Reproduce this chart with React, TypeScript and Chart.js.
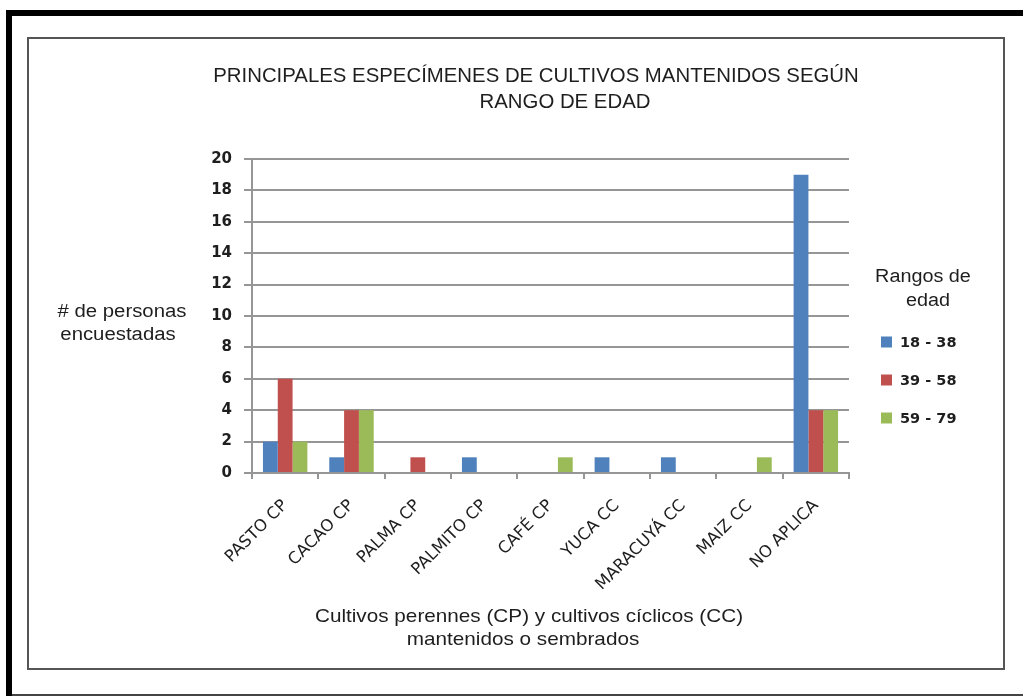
import React, { useEffect, useRef } from "react";
import { Chart, registerables } from "chart.js";

Chart.register(...registerables);

const categories = [
  "PASTO CP",
  "CACAO CP",
  "PALMA CP",
  "PALMITO CP",
  "CAFÉ CP",
  "YUCA CC",
  "MARACUYÁ CC",
  "MAIZ CC",
  "NO APLICA",
];
const seriesLabels = ["18 - 38", "39 - 58", "59 - 79"];
const values18to38 = [2, 1, 0, 1, 0, 1, 1, 0, 19];
const values39to58 = [6, 4, 1, 0, 0, 0, 0, 0, 4];
const values59to79 = [2, 4, 0, 0, 1, 0, 0, 1, 4];
const seriesColors = ["#4F81BD", "#C0504D", "#9BBB59"];
const titleLines = ["PRINCIPALES ESPECÍMENES DE CULTIVOS MANTENIDOS SEGÚN", "RANGO DE EDAD"];
const yTitleLines = ["# de personas", "encuestadas"];
const xTitleLines = ["Cultivos perennes (CP) y cultivos cíclicos (CC)", "mantenidos o sembrados"];
const legendTitleLines = ["Rangos de", "edad"];
const yMin = 0;
const yMax = 20;
const yStep = 2;

const W = 1023;
const H = 696;
const AREA = { left: 252, right: 849, top: 159, bottom: 473 };
const Y_W = 60;
const X_H = 120;
const GRID = "#969696";
const TEXT = "#1e1e1e";

function drawText(
  ctx: CanvasRenderingContext2D,
  text: string,
  cx: number,
  baseline: number,
  font: string,
  sx: number
) {
  ctx.save();
  ctx.font = font;
  ctx.fillStyle = TEXT;
  ctx.textAlign = "center";
  ctx.textBaseline = "alphabetic";
  ctx.translate(cx, baseline);
  ctx.scale(sx, 1);
  ctx.fillText(text, 0, 0);
  ctx.restore();
}

const decorPlugin = {
  id: "decor",
  beforeDraw(chart: any) {
    const ctx: CanvasRenderingContext2D = chart.ctx;
    ctx.save();
    ctx.fillStyle = "#ffffff";
    ctx.fillRect(0, 0, W, H);
    // outer thick frame
    ctx.fillStyle = "#000000";
    ctx.fillRect(6, 10, 6, H - 10);
    ctx.fillRect(6, 10, W - 6, 6);
    ctx.fillStyle = "#444444";
    ctx.fillRect(12, 694, W - 12, 2);
    // inner chart frame
    ctx.strokeStyle = "#555555";
    ctx.lineWidth = 2;
    ctx.strokeRect(28, 38, 976, 631);
    ctx.restore();
  },
  afterDraw(chart: any) {
    const ctx: CanvasRenderingContext2D = chart.ctx;
    const f21 = "21px 'Liberation Sans', Arial, sans-serif";
    const f18 = "18px 'Liberation Sans', Arial, sans-serif";
    const f19 = "19px 'Liberation Sans', Arial, sans-serif";
    // title
    drawText(ctx, titleLines[0], 536, 82, f21, 0.97);
    drawText(ctx, titleLines[1], 565, 108, f21, 0.97);
    // y axis title (horizontal)
    drawText(ctx, yTitleLines[0], 122, 317, f18, 1.13);
    drawText(ctx, yTitleLines[1], 118, 340, f18, 1.13);
    // x axis title
    drawText(ctx, xTitleLines[0], 529, 622, f19, 1.09);
    drawText(ctx, xTitleLines[1], 523, 645, f19, 1.09);
    // legend
    drawText(ctx, legendTitleLines[0], 923, 282, f18, 1.1);
    drawText(ctx, legendTitleLines[1], 928, 306, f18, 1.1);
    const rows = [342, 380, 418];
    chart.data.datasets.forEach((ds: any, i: number) => {
      const y = rows[i];
      ctx.save();
      ctx.fillStyle = ds.backgroundColor;
      ctx.fillRect(881, y - 5.5, 11, 11);
      ctx.fillStyle = TEXT;
      ctx.font = "bold 14.5px 'DejaVu Sans', sans-serif";
      ctx.textAlign = "left";
      ctx.textBaseline = "middle";
      ctx.fillText(ds.label, 900, y + 1);
      ctx.restore();
    });
  },
};

export default function App() {
  const ref = useRef<HTMLCanvasElement>(null);

  useEffect(() => {
    const canvas = ref.current;
    if (!canvas) return;
    const seriesValues = [values18to38, values39to58, values59to79];
    const chart = new Chart(canvas, {
      type: "bar",
      data: {
        labels: categories,
        datasets: seriesLabels.map((label, i) => ({
          label,
          data: seriesValues[i],
          backgroundColor: seriesColors[i],
          borderWidth: 0,
          barPercentage: 1,
          categoryPercentage: 0.67,
        })),
      },
      options: {
        responsive: false,
        animation: false,
        devicePixelRatio: 1,
        layout: {
          padding: {
            left: AREA.left - Y_W,
            right: W - AREA.right,
            top: AREA.top,
            bottom: H - AREA.bottom - X_H,
          },
        },
        plugins: {
          legend: { display: false },
          title: { display: false },
          tooltip: { enabled: false },
        },
        scales: {
          x: {
            grid: {
              display: true,
              drawOnChartArea: false,
              drawTicks: true,
              tickLength: 6,
              color: GRID,
              lineWidth: 2,
              offset: true,
            },
            border: { display: true, color: GRID, width: 2 },
            ticks: {
              autoSkip: false,
              minRotation: 45,
              maxRotation: 45,
              padding: 17,
              color: TEXT,
              font: { family: "'DejaVu Sans', sans-serif", size: 16.5 },
            },
            afterFit: (s: any) => {
              s.height = X_H;
            },
          },
          y: {
            min: yMin,
            max: yMax,
            ticks: {
              stepSize: yStep,
              padding: 12,
              color: TEXT,
              font: { family: "'DejaVu Sans', sans-serif", size: 15, weight: "bold" },
            },
            grid: {
              color: GRID,
              lineWidth: 2,
              drawTicks: true,
              tickLength: 8,
            },
            border: { display: true, color: GRID, width: 2 },
            afterFit: (s: any) => {
              s.width = Y_W;
            },
          },
        },
      },
      plugins: [decorPlugin],
    } as any);
    return () => chart.destroy();
  }, []);

  return (
    <div style={{ position: "absolute", left: 0, top: 0, width: W, height: H }}>
      <canvas ref={ref} width={W} height={H} style={{ display: "block", width: W, height: H }} />
    </div>
  );
}
